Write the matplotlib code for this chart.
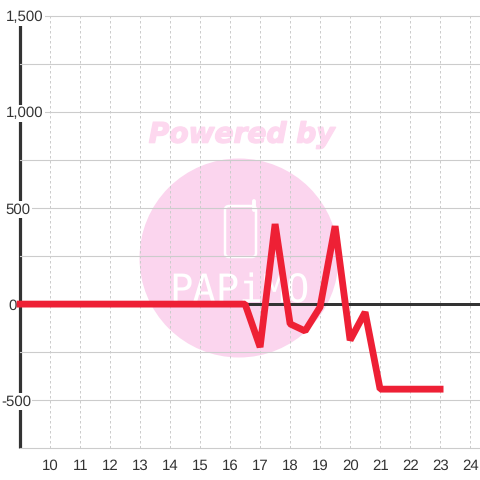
import numpy as np
import matplotlib
matplotlib.use('Agg')
import matplotlib.pyplot as plt
import matplotlib.patheffects as pe
from matplotlib.patches import Circle, FancyBboxPatch
from matplotlib.transforms import ScaledTranslation

hours = [9, 9.5, 10, 10.5, 11, 11.5, 12, 12.5, 13, 13.5, 14, 14.5, 15, 15.5, 16, 16.5,
         17, 17.5, 18, 18.5, 19, 19.5, 20, 20.5, 21, 21.5, 22, 22.5, 23]
values = [0, 0, 0, 0, 0, 0, 0, 0, 0, 0, 0, 0, 0, 0, 0, 0,
          -224, 417, -103, -140, -15, 406, -188, -42, -443, -443, -443, -443, -443]
x_ticks = list(range(10, 25))
y_ticks = [-750, -500, -250, 0, 250, 500, 750, 1000, 1250, 1500]
y_labels = ['', '-500', '', '0', '', '500', '', '1,000', '', '1,500']
# right edge of each y label, in pixels
y_label_right = [30, 31, 30, 17, 30, 30.5, 30, 43.5, 30, 43.5]

plt.rcParams['font.family'] = ['Liberation Sans', 'DejaVu Sans']
plt.rcParams['text.hinting'] = 'none'

W = 480.0
DARK = '#333333'
GRID = '#cccccc'
RED = '#ee2035'
PINK = '#fbd5ee'


def fx(px):
    return px / W


def fy(py):
    return 1 - py / W


fig = plt.figure(figsize=(4.8, 4.8), dpi=100)
ax = fig.add_axes([20.1 / W, 31.9 / W, 459.9 / W, 432 / W])
ax.set_xlim(9, 9 + 459.9 / 30)
ax.set_ylim(-750, 1500)
ax.set_axisbelow(True)

# watermark
tf = fig.transFigure
ax.add_patch(Circle((fx(239), fy(258)), 99.5 / W, transform=tf, fc=PINK, ec='none', zorder=0.1))
ax.text(fx(241.5), fy(135), 'Powered by', transform=tf, ha='center', va='center', color='#fdd8ef',
        family='DejaVu Sans', weight='bold', style='italic', fontsize=20.2, zorder=0.1,
        path_effects=[pe.withStroke(linewidth=1.0, foreground='#fdd8ef')])
ax.add_patch(FancyBboxPatch((fx(229), fy(253)), 23 / W, 43 / W, transform=tf,
                            boxstyle='round,pad=%f,rounding_size=%f' % (4 / W, 4 / W),
                            fc='none', ec='white', lw=1.8, zorder=0.2, mutation_aspect=1))
ax.plot([fx(254.5), fx(254.5)], [fy(201), fy(210)], transform=tf, color='white', lw=2.8,
        solid_capstyle='round', zorder=0.2)
ax.text(fx(239.5), fy(292), 'PAPiMO', transform=tf, ha='center', va='center', color='white',
        family='DejaVu Sans Mono', fontsize=28, zorder=0.2)

ax.set_xticks(x_ticks)
ax.set_yticks(y_ticks)
ax.set_yticklabels(y_labels)
ax.grid(True, axis='y', color=GRID, lw=0.8, ls='-')
ax.grid(True, axis='x', color=GRID, lw=0.72, ls=(0, (2.5, 2.5)))
for line in ax.get_ygridlines():
    line.set_clip_on(False)

for s in ['top', 'right', 'bottom']:
    ax.spines[s].set_visible(False)
ax.spines['left'].set_color(DARK)
ax.spines['left'].set_linewidth(2.3)
ax.spines['left'].set_zorder(0.3)
ax.spines['left'].set_capstyle('butt')

ax.tick_params(axis='both', length=0, labelsize=10.8, labelcolor=DARK)
ax.tick_params(axis='x', pad=8)
nudge = ScaledTranslation(0.6 / 100, 0, fig.dpi_scale_trans)
for tick in ax.xaxis.get_major_ticks():
    tick.label1.set_transform(tick.label1.get_transform() + nudge)
for tick, right in zip(ax.yaxis.get_major_ticks(), y_label_right):
    tick.set_pad((20.1 - right) * 0.72)
    tick.label1.set_ha('right')
    if tick.label1.get_text():
        tick.label1.set_bbox(dict(fc='white', ec='none', pad=1.0))

ax.axhline(0, color=DARK, lw=2.16, zorder=1)
ax.plot(hours, values, color=RED, lw=4.9, solid_joinstyle='bevel', solid_capstyle='projecting',
        clip_on=False, zorder=3)

fig.savefig('out.png', dpi=100)
